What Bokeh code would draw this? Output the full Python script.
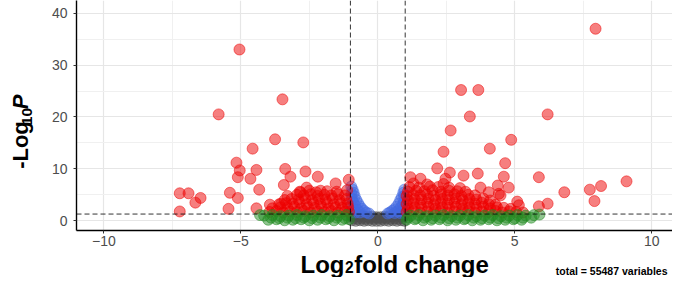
import math
from bokeh.plotting import figure
from bokeh.layouts import row, column
from bokeh.models import Range1d, FixedTicker, Span, Label
from bokeh.embed import file_html
from bokeh.resources import INLINE

# ---------------- data ----------------
fc_cutoff = 1.0
p_cutoff = 0.05

x_ticks = [-10, -5, 0, 5, 10]
x_minor = [-7.5, -2.5, 2.5, 7.5]
y_ticks = [0, 10, 20, 30, 40]
y_minor = [5, 15, 25, 35]

caption = "total = 55487 variables"

# significant by p-value and log2 fold change (red)
both_x = [
    # left outliers
    -5.05, -5.81, -3.48, -3.75, -2.72, -4.57, -5.16, -5.04, -5.11, -4.65, -4.43,
    -4.33, -3.38, -3.19, -2.64, -2.19, -1.54, -1.06, -3.43, -2.82, -2.09, -2.60,
    -5.40, -5.11, -5.45, -4.43, -3.94, -7.23, -6.91, -6.66, -6.47, -7.23, -3.53,
    # left dense cloud
    -3.95, -3.70, -3.45, -3.20, -2.95, -2.70, -2.45, -2.20, -1.95, -1.70, -1.45, -1.20, -1.05,
    -3.85, -3.55, -3.30, -3.05, -2.80, -2.55, -2.30, -2.05, -1.80, -1.55, -1.30, -1.08,
    -3.60, -3.35, -3.10, -2.85, -2.60, -2.35, -2.10, -1.85, -1.60, -1.35, -1.10,
    -3.40, -3.15, -2.90, -2.65, -2.40, -2.15, -1.90, -1.65, -1.40, -1.15,
    -3.30, -2.95, -2.70, -2.45, -2.20, -1.95, -1.70, -1.45, -1.20,
    -2.85, -2.50, -2.25, -1.85, -1.50, -1.12,
    # right dense cloud
    1.05, 1.30, 1.55, 1.80, 2.05, 2.30, 2.55, 2.80, 3.05, 3.30, 3.55, 3.80, 4.05, 4.30, 4.55, 4.80, 5.05, 5.30,
    1.10, 1.35, 1.60, 1.85, 2.10, 2.35, 2.60, 2.85, 3.10, 3.35, 3.60, 3.85, 4.10, 4.35, 4.60, 4.85,
    1.05, 1.30, 1.55, 1.80, 2.05, 2.30, 2.55, 2.80, 3.05, 3.30, 3.55, 3.80, 4.05, 4.30,
    1.10, 1.35, 1.60, 1.85, 2.10, 2.35, 2.60, 2.85, 3.10, 3.35, 3.60, 3.85, 4.10,
    1.05, 1.30, 1.55, 1.80, 2.05, 2.30, 2.55, 2.80, 3.05, 3.30, 3.55,
    1.10, 1.40, 1.70, 2.00, 2.30, 2.60, 2.90, 3.20,
    1.15, 1.50, 1.90, 2.20, 2.60, 3.00,
    1.30, 1.80, 2.40,
    # right outliers
    7.95, 3.04, 3.67, 3.36, 6.20, 2.66, 4.87, 4.09, 2.40, 4.65, 2.17, 4.60, 5.88,
    3.65, 3.13, 2.63, 2.47, 1.19, 1.56, 9.08, 8.15, 7.74, 7.91, 6.81, 6.20, 5.88,
    5.09, 4.78, 4.38, 4.42, 4.05, 3.75, 4.48, 5.15,
]
both_y = [
    33.0, 20.5, 23.4, 15.7, 15.1, 13.9, 11.2, 9.7, 8.4, 8.1, 9.8,
    6.0, 10.0, 8.5, 9.5, 8.5, 7.2, 7.9, 6.9, 5.5, 5.8, 6.4,
    5.4, 4.4, 2.3, 2.4, 3.1, 5.3, 5.3, 3.5, 4.4, 1.8, 3.3,
    1.7, 1.9, 1.6, 1.8, 1.7, 1.9, 1.6, 1.8, 1.7, 1.9, 1.6, 1.8, 1.7,
    2.4, 2.6, 2.5, 2.7, 2.4, 2.6, 2.5, 2.7, 2.4, 2.6, 2.5, 2.6,
    3.2, 3.4, 3.3, 3.5, 3.2, 3.4, 3.3, 3.5, 3.2, 3.4, 3.3,
    4.0, 4.2, 4.1, 4.3, 4.0, 4.2, 4.1, 4.3, 4.0, 4.2,
    4.8, 5.0, 4.9, 5.1, 4.8, 5.0, 4.9, 5.1, 4.9,
    5.6, 5.8, 5.5, 5.7, 5.6, 5.9,
    1.7, 1.9, 1.6, 1.8, 1.7, 1.9, 1.6, 1.8, 1.7, 1.9, 1.6, 1.8, 1.7, 1.9, 1.6, 1.8, 1.7, 1.6,
    2.4, 2.6, 2.5, 2.7, 2.4, 2.6, 2.5, 2.7, 2.4, 2.6, 2.5, 2.7, 2.4, 2.6, 2.5, 2.3,
    3.2, 3.4, 3.3, 3.5, 3.2, 3.4, 3.3, 3.5, 3.2, 3.4, 3.3, 3.5, 3.2, 3.1,
    4.0, 4.2, 4.1, 4.3, 4.0, 4.2, 4.1, 4.3, 4.0, 4.2, 4.1, 4.3, 3.9,
    4.8, 5.0, 4.9, 5.1, 4.8, 5.0, 4.9, 5.1, 4.8, 5.0, 4.9,
    5.6, 5.8, 5.7, 5.9, 5.6, 5.8, 5.7, 5.6,
    6.5, 6.4, 6.6, 6.5, 6.4, 6.3,
    7.2, 7.0, 7.1,
    37.0, 25.2, 25.2, 20.1, 20.5, 17.4, 15.6, 13.9, 13.3, 11.1, 10.1, 8.5, 8.4,
    9.1, 8.7, 9.3, 8.1, 8.4, 8.1, 7.6, 6.7, 6.0, 3.8, 5.5, 3.3, 2.8,
    3.7, 6.4, 6.8, 5.2, 5.5, 6.4, 4.9, 3.0,
]

# log2 fold change only (green)
fc_x = [
    -4.00, -3.70, -3.40, -3.10, -2.80, -2.50, -2.20, -1.90, -1.60, -1.30, -1.05,
    -3.90, -3.60, -3.30, -3.00, -2.70, -2.40, -2.10, -1.80, -1.50, -1.20,
    -4.15, -3.85, -3.55, -3.25, -2.95, -2.65, -2.35, -2.05, -1.75, -1.45, -1.15,
    1.05, 1.35, 1.65, 1.95, 2.25, 2.55, 2.85, 3.15, 3.45, 3.75, 4.05, 4.35, 4.65, 4.95, 5.25,
    1.10, 1.40, 1.70, 2.00, 2.30, 2.60, 2.90, 3.20, 3.50, 3.80, 4.10, 4.40, 4.70, 5.00, 5.30,
    1.20, 1.50, 1.80, 2.10, 2.40, 2.70, 3.00, 3.30, 3.60, 3.90, 4.20, 4.50, 4.80, 5.10, 5.40,
    5.70, 5.90, 5.60, -4.30,
]
fc_y = [
    0.2, 0.3, 0.1, 0.2, 0.3, 0.1, 0.2, 0.3, 0.1, 0.2, 0.3,
    0.6, 0.5, 0.6, 0.5, 0.6, 0.5, 0.6, 0.5, 0.6, 0.5,
    1.0, 1.1, 0.9, 1.0, 1.1, 0.9, 1.0, 1.1, 0.9, 1.0, 1.1,
    0.2, 0.3, 0.1, 0.2, 0.3, 0.1, 0.2, 0.3, 0.1, 0.2, 0.3, 0.1, 0.2, 0.3, 0.2,
    0.6, 0.5, 0.6, 0.5, 0.6, 0.5, 0.6, 0.5, 0.6, 0.5, 0.6, 0.5, 0.6, 0.5, 0.6,
    1.0, 1.1, 0.9, 1.0, 1.1, 0.9, 1.0, 1.1, 0.9, 1.0, 1.1, 0.9, 1.0, 1.1, 1.0,
    1.1, 1.2, 0.6, 1.1,
]

# p-value only (blue)
p_x = [-0.97, -0.92, -0.96, -0.88, -0.84, -0.95, -0.78, -0.90, -0.72, -0.96, -0.82,
       -0.65, -0.90, -0.58, -0.75, -0.50, -0.95, -0.82, -0.65, -0.42, -0.32,
       0.97, 0.93, 0.96, 0.88, 0.82, 0.95, 0.76, 0.90, 0.68, 0.96, 0.82,
       0.60, 0.90, 0.52, 0.72, 0.44, 0.95, 0.82, 0.62, 0.36]
p_y = [6.6, 6.0, 5.2, 5.4, 4.7, 4.3, 4.0, 3.6, 3.4, 3.0, 2.9,
       2.8, 2.3, 2.3, 2.1, 1.9, 1.7, 1.6, 1.6, 1.6, 1.4,
       6.0, 5.4, 4.7, 4.6, 4.0, 3.7, 3.3, 3.0, 2.7, 2.5, 2.4,
       2.2, 1.9, 1.9, 1.8, 1.6, 1.5, 1.5, 1.5, 1.4]

# not significant (grey)
ns_x = [-0.95, -0.80, -0.65, -0.50, -0.35, -0.20, -0.05, 0.10, 0.25, 0.40, 0.55, 0.70, 0.85, 0.97,
        -0.90, -0.75, -0.60, -0.45, -0.30, -0.15, 0.00, 0.15, 0.30, 0.45, 0.60, 0.75, 0.90,
        -0.95, -0.80, -0.65, -0.50, -0.35, -0.20, -0.05, 0.10, 0.25, 0.40, 0.55, 0.70, 0.85, 0.97,
        -0.95, -0.80, -0.65, 0.65, 0.80, 0.95]
ns_y = [0.1, 0.0, 0.1, 0.0, 0.1, 0.0, 0.0, 0.0, 0.1, 0.0, 0.1, 0.0, 0.1, 0.0,
        0.5, 0.4, 0.5, 0.4, 0.5, 0.4, 0.5, 0.4, 0.5, 0.4, 0.5, 0.4, 0.5,
        0.9, 1.0, 0.9, 0.8, 0.8, 0.8, 0.7, 0.7, 0.8, 0.8, 0.9, 1.0, 0.9, 1.0,
        1.25, 1.2, 1.15, 1.15, 1.2, 1.25]

# ---------------- layout geometry (window pixels) ----------------
W_TOTAL = 672
W_LEFT = 36          # strip holding the y title
H_MAIN = 250
H_BOTTOM = 27
H_ALL = H_MAIN + H_BOTTOM
FRAME_L, FRAME_R, FRAME_T, FRAME_B = 76, 672, 0, 230

X0 = (FRAME_L - 377.3) / 27.392
X1 = (FRAME_R - 377.3) / 27.392
Y0 = (220.3 - FRAME_B) / 5.1906
Y1 = (220.3 - FRAME_T) / 5.1906

FONT = "Liberation Sans"
SHIFT = 0.3   # observed offset of label baselines, in em

p = figure(width=W_TOTAL - W_LEFT, height=H_MAIN, output_backend="svg", toolbar_location=None,
           title=None, x_range=Range1d(X0, X1), y_range=Range1d(Y0, Y1),
           min_border_left=FRAME_L - W_LEFT, min_border_right=0, min_border_top=FRAME_T,
           min_border_bottom=H_MAIN - FRAME_B)
p.outline_line_color = None
p.background_fill_color = "white"
p.border_fill_color = "white"

p.xaxis.ticker = FixedTicker(ticks=x_ticks, minor_ticks=x_minor)
p.yaxis.ticker = FixedTicker(ticks=y_ticks, minor_ticks=y_minor)
for ax in (p.xaxis, p.yaxis):
    ax.axis_line_color = "black"
    ax.axis_line_width = 1.4
    ax.major_tick_line_color = "#333333"
    ax.major_tick_line_width = 1
    ax.major_tick_in = 0
    ax.major_tick_out = 3
    ax.minor_tick_line_color = None
    ax.major_label_text_font = FONT
    ax.major_label_text_font_size = "14px"
    ax.major_label_text_color = "#4d4d4d"
p.xaxis.major_label_standoff = 1
p.yaxis.major_label_standoff = 5
for g in (p.xgrid, p.ygrid):
    g.grid_line_color = "#e6e6e6"
    g.grid_line_width = 1.2
    g.minor_grid_line_color = "#f0f0f0"
    g.minor_grid_line_width = 1

common = dict(size=11, line_width=1, fill_alpha=0.5, line_alpha=0.5)
p.scatter(ns_x, ns_y, fill_color="#4d4d4d", line_color="#4d4d4d", **common)
p.scatter(p_x, p_y, fill_color="#4169e1", line_color="#4169e1", **common)
p.scatter(both_x, both_y, fill_color="#ee0000", line_color="#ee0000", **common)
p.scatter(fc_x, fc_y, fill_color="#228b22", line_color="#228b22", **common)

dash = dict(line_color="black", line_alpha=0.8, line_width=1, line_dash="5 3")
p.add_layout(Span(location=-fc_cutoff, dimension="height", **dash))
p.add_layout(Span(location=fc_cutoff, dimension="height", **dash))
p.add_layout(Span(location=-math.log10(p_cutoff), dimension="width", **dash))


def strip(w, h):
    f = figure(width=w, height=h, output_backend="svg", toolbar_location=None, title=None,
               x_range=Range1d(0, w), y_range=Range1d(0, h),
               x_axis_type=None, y_axis_type=None, min_border=0,
               min_border_left=0, min_border_right=0, min_border_top=0, min_border_bottom=0)
    f.outline_line_color = None
    f.background_fill_color = "white"
    f.border_fill_color = "white"
    f.grid.visible = False
    return f


# y-axis title: -Log10 P (rotated, reads upwards)
yf = strip(W_LEFT, H_MAIN)
ys = 22
ysub = ys * 0.7
y_start = H_MAIN - 183
w1 = 2.166 * ys
w2 = 2 * 0.556 * ysub
yf.add_layout(Label(x=27 - SHIFT * ys, y=y_start, text="-Log", angle=math.pi / 2, text_font=FONT,
                    text_font_size=f"{ys}px", text_font_style="bold", text_color="black",
                    text_align="left", text_baseline="alphabetic"))
yf.add_layout(Label(x=31 - SHIFT * ysub, y=y_start + w1, text="10", angle=math.pi / 2, text_font=FONT,
                    text_font_size=f"{ysub:.1f}px", text_font_style="bold", text_color="black",
                    text_align="left", text_baseline="alphabetic"))
yf.add_layout(Label(x=27 - SHIFT * ys, y=y_start + w1 + w2, text="P", angle=math.pi / 2, text_font=FONT,
                    text_font_size=f"{ys}px", text_font_style="bold italic", text_color="black",
                    text_align="left", text_baseline="alphabetic"))

# bottom strip: x title Log2 fold change + caption
bf = strip(W_TOTAL, H_BOTTOM)
xs = 24
xsub = xs * 0.65
xstart = 300
a1 = 1.833 * xs
a2 = 0.556 * xsub
bf.add_layout(Label(x=xstart, y=H_ALL - 271.5 + SHIFT * xs, text="Log", text_font=FONT,
                    text_font_size=f"{xs}px", text_font_style="bold", text_color="black",
                    text_align="left", text_baseline="alphabetic"))
bf.add_layout(Label(x=xstart + a1 + 0.5, y=H_ALL - 271.3 + SHIFT * xsub, text="2", text_font=FONT,
                    text_font_size=f"{xsub:.1f}px", text_font_style="bold", text_color="black",
                    text_align="left", text_baseline="alphabetic"))
bf.add_layout(Label(x=xstart + a1 + a2 + 1, y=H_ALL - 271.5 + SHIFT * xs, text="fold change", text_font=FONT,
                    text_font_size=f"{xs}px", text_font_style="bold", text_color="black",
                    text_align="left", text_baseline="alphabetic"))
bf.add_layout(Label(x=667, y=H_ALL - 274 + SHIFT * 10.5, text=caption, text_font=FONT,
                    text_font_size="10.5px", text_font_style="bold", text_color="black",
                    text_align="right", text_baseline="alphabetic"))

layout = column(row(yf, p), bf)
open("out.html", "w").write(file_html(layout, INLINE))
